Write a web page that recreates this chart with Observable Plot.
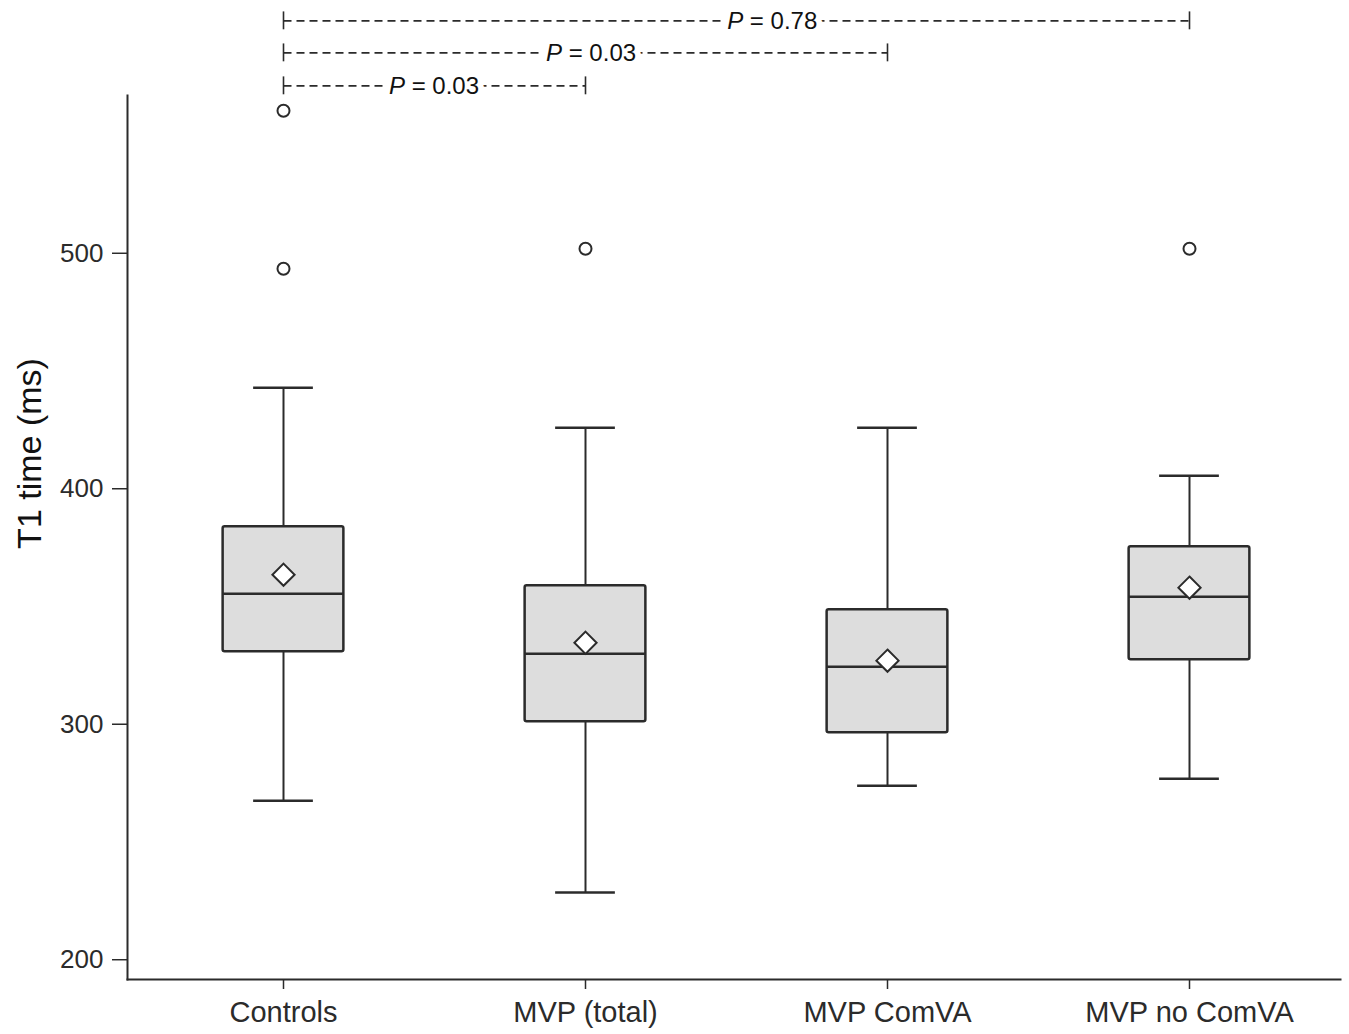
<!DOCTYPE html>
<html>
<head>
<meta charset="utf-8">
<script src="https://cdn.jsdelivr.net/npm/d3@7"></script>
<script src="https://cdn.jsdelivr.net/npm/@observablehq/plot@0.6"></script>
<style>
  html, body { margin: 0; padding: 0; background: #fff; }
  #chart { width: 1349px; height: 1034px; }
</style>
</head>
<body>
<div id="chart"></div>
<script>
// ---- data ----
const groups   = ["Controls", "MVP (total)", "MVP ComVA", "MVP no ComVA"];
const whiskLo  = [267.5, 228.5, 273.9, 276.9];
const q1       = [330.8, 301.1, 296.4, 327.4];
const median   = [355.4, 329.9, 324.4, 354.1];
const q3       = [383.9, 358.8, 348.6, 375.4];
const whiskHi  = [442.9, 425.9, 425.9, 405.5];
const means    = [363.5, 334.6, 327.0, 358.0];
const outlierGroup = ["Controls", "Controls", "MVP (total)", "MVP no ComVA"];
const outlierValue = [493.4, 560.5, 501.9, 501.9];
const yTicks = [200, 300, 400, 500];
const yLabel = "T1 time (ms)";
// significance brackets (drawn above the plotting area)
const bracketFrom  = ["Controls", "Controls", "Controls"];
const bracketTo    = ["MVP no ComVA", "MVP ComVA", "MVP (total)"];
const bracketLevel = [598.7, 585.1, 571.1];
const bracketP     = ["0.78", "0.03", "0.03"];
const bracketLabelAt = [0.54, 0.51, 0.5]; // fraction of bracket span where label sits

// ---- tables built from the arrays ----
const boxes = groups.map((g, i) => ({g, lo: whiskLo[i], q1: q1[i], med: median[i], q3: q3[i], hi: whiskHi[i], mean: means[i]}));
const outliers = outlierGroup.map((g, i) => ({g, v: outlierValue[i]}));
const brackets = bracketFrom.map((f, i) => ({from: f, to: bracketTo[i], level: bracketLevel[i], p: bracketP[i], frac: bracketLabelAt[i]}));

const W = 1349, H = 1034;
const mL = 127, mR = 9, mT = 95, mB = 55;
const yDomain = [191.6, 567];

const ink = "#2b2b2b";
const step = (W - mR - mL - 4) / groups.length;
const boxInset = (step - 121) / 2;
const capInset = (step - 60) / 2;

const plot = Plot.plot({
  width: W,
  height: H,
  marginLeft: mL,
  marginRight: mR,
  marginTop: mT,
  marginBottom: mB,
  style: {fontFamily: "'Liberation Sans', Arial, sans-serif", background: "#fff", color: ink, overflow: "visible"},
  x: {type: "band", domain: groups, padding: 0, insetLeft: 4},
  y: {domain: yDomain},
  marks: [
    // axes lines
    Plot.frame({anchor: "left", stroke: ink, strokeWidth: 2}),
    Plot.frame({anchor: "bottom", stroke: ink, strokeWidth: 2}),
    Plot.axisY({ticks: yTicks, tickSize: 15, tickPadding: 9, fontSize: 26, label: null, stroke: ink, strokeWidth: 1.5}),
    Plot.axisX({tickSize: 10, tickPadding: 12, fontSize: 29, label: null, stroke: ink, strokeWidth: 1.5}),
    Plot.text([yLabel], {frameAnchor: "left", textAnchor: "middle", rotate: -90, dx: -97, dy: -84, fontSize: 34, fill: "#111"}),
    // whiskers
    Plot.ruleX(boxes, {x: "g", y1: "lo", y2: "q1", stroke: ink, strokeWidth: 2}),
    Plot.ruleX(boxes, {x: "g", y1: "q3", y2: "hi", stroke: ink, strokeWidth: 2}),
    Plot.tickY(boxes, {x: "g", y: "lo", insetLeft: capInset, insetRight: capInset, stroke: ink, strokeWidth: 2.5}),
    Plot.tickY(boxes, {x: "g", y: "hi", insetLeft: capInset, insetRight: capInset, stroke: ink, strokeWidth: 2.5}),
    // boxes
    Plot.barY(boxes, {x: "g", y1: "q1", y2: "q3", insetLeft: boxInset, insetRight: boxInset, fill: "#dddddd", stroke: ink, strokeWidth: 2.5, rx: 2}),
    Plot.tickY(boxes, {x: "g", y: "med", insetLeft: boxInset, insetRight: boxInset, stroke: ink, strokeWidth: 2.5}),
    // means
    Plot.dot(boxes, {x: "g", y: "mean", symbol: "diamond2", r: 10, fill: "white", stroke: ink, strokeWidth: 2}),
    // outliers
    Plot.dot(outliers, {x: "g", y: "v", r: 6, fill: "white", stroke: ink, strokeWidth: 2}),
    // significance brackets
    Plot.link(brackets, {x1: "from", x2: "to", y1: "level", y2: "level", stroke: ink, strokeWidth: 1.6, strokeDasharray: "8,5"}),
    Plot.ruleX(brackets, {x: "from", y1: d => d.level - 3.8, y2: d => d.level + 3.8, stroke: ink, strokeWidth: 1.6}),
    Plot.ruleX(brackets, {x: "to", y1: d => d.level - 3.8, y2: d => d.level + 3.8, stroke: ink, strokeWidth: 1.6}),
    Plot.text(brackets, {
      x: "from",
      y: "level",
      text: d => d.p,
      render(index, scales, values, dimensions, context, next) {
        // place each label along its bracket using the plot's own scales
        const g = d3.create("svg:g");
        for (const i of index) {
          const d = brackets[i];
          const bw = scales.x.bandwidth ? scales.x.bandwidth() / 2 : 0;
          const xa = scales.x(d.from) + bw, xb = scales.x(d.to) + bw;
          const cx = xa + (xb - xa) * d.frac;
          const cy = scales.y(d.level);
          const t = g.append("text")
            .attr("x", cx).attr("y", cy).attr("dy", "0.36em")
            .attr("text-anchor", "middle")
            .attr("font-size", 24)
            .attr("fill", "#111")
            .attr("stroke", "white").attr("stroke-width", 12).attr("paint-order", "stroke");
          t.append("tspan").attr("font-style", "italic").text("P");
          t.append("tspan").text(" = " + d.p);
        }
        return g.node();
      }
    })
  ]
});
document.getElementById("chart").appendChild(plot);
</script>
</body>
</html>
